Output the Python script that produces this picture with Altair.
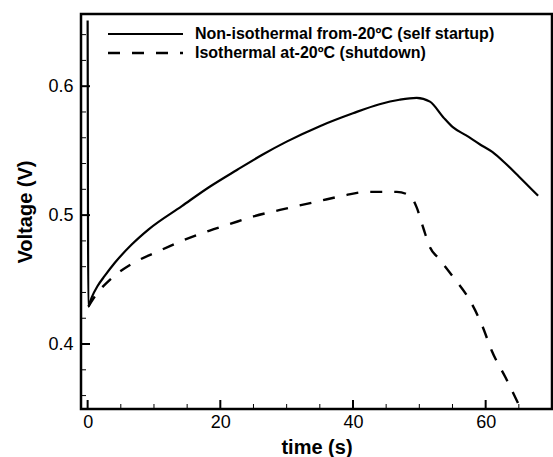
import altair as alt
import pandas as pd

# Series data
solid_t = [0, 0.05, 0.1, 0.6, 1.5, 2.6, 4.1, 6.6, 9.2, 14.2, 18.4, 22.5, 26.4, 30, 35, 40, 44,
           47, 49.6, 51.6, 53.6, 55.1, 57, 59.1, 61, 63, 65, 67.9]
solid_v = [0.651, 0.51, 0.429, 0.436, 0.445, 0.453, 0.463, 0.477, 0.489, 0.507, 0.522, 0.535,
           0.547, 0.557, 0.569, 0.579, 0.586, 0.5895, 0.591, 0.588, 0.576, 0.568, 0.562, 0.555,
           0.549, 0.540, 0.530, 0.515]
dash_t = [0.1, 1.1, 3.6, 6.6, 10.7, 14.2, 18.4, 21.4, 25, 29, 35, 38.5, 42, 46.6, 48.6, 49.6,
          50.6, 51.6, 53, 55.1, 57.6, 59.5, 60.9, 63, 64.9]
dash_v = [0.429, 0.437, 0.451, 0.462, 0.472, 0.480, 0.488, 0.493, 0.499, 0.504, 0.511, 0.515,
          0.518, 0.518, 0.515, 0.506, 0.490, 0.475, 0.466, 0.452, 0.434, 0.414, 0.395, 0.374,
          0.354]
series_names = ["Non-isothermal from-20ºC (self startup)", "Isothermal at-20ºC (shutdown)"]

x_major = [0, 20, 40, 60]
x_minor = [5, 10, 15, 25, 30, 35, 45, 50, 55, 65]
y_major = [0.4, 0.5, 0.6]
y_minor = [0.36, 0.38, 0.42, 0.44, 0.46, 0.48, 0.52, 0.54, 0.56, 0.58, 0.62, 0.64]

W, H = 471, 395
FONT = "Liberation Sans"
DASH = [12, 12]

solid_df = pd.DataFrame({"t": solid_t, "v": solid_v, "i": range(len(solid_t))})
dash_df = pd.DataFrame({"t": dash_t, "v": dash_v, "i": range(len(dash_t))})

xscale = alt.Scale(domain=[-1, 70], nice=False, zero=False)
yscale = alt.Scale(domain=[0.3496, 0.656], nice=False, zero=False)

xaxis = alt.Axis(values=x_major, title="time (s)", ticks=False, domain=False,
                 grid=False, labelFontSize=18, labelFont=FONT, labelColor="black",
                 labelPadding=4, titleFont=FONT, titleFontSize=20,
                 titleFontWeight="bold", titleColor="black", titlePadding=6)
yaxis = alt.Axis(values=y_major, format=".1f", title="Voltage (V)", ticks=False,
                 domain=False, grid=False, labelFontSize=18, labelFont=FONT,
                 labelColor="black", labelPadding=8, titleFont=FONT,
                 titleFontSize=20, titleFontWeight="bold", titleColor="black",
                 titlePadding=12)

solid_line = alt.Chart(solid_df).mark_line(
    clip=True, strokeWidth=2.2, color="black", interpolate="monotone").encode(
    x=alt.X("t:Q", scale=xscale, axis=xaxis),
    y=alt.Y("v:Q", scale=yscale, axis=yaxis),
    order="i:Q",
)
dash_line = alt.Chart(dash_df).mark_line(
    clip=True, strokeWidth=2.4, color="black", strokeDash=DASH,
    interpolate="monotone").encode(
    x=alt.X("t:Q", scale=xscale),
    y=alt.Y("v:Q", scale=yscale),
    order="i:Q",
)

# Legend (inside the plot, top left)
leg1 = pd.DataFrame({"label": [series_names[0]]})
leg2 = pd.DataFrame({"label": [series_names[1]]})
LX0, LX1, LTX = 27, 102, 114
LY1, LY2 = 20, 39
leg_rule1 = alt.Chart(leg1).mark_rule(color="black", strokeWidth=2.2).encode(
    x=alt.value(LX0), x2=alt.value(LX1), y=alt.value(LY1))
leg_rule2 = alt.Chart(leg2).mark_rule(color="black", strokeWidth=2.4, strokeDash=DASH).encode(
    x=alt.value(LX0), x2=alt.value(LX1), y=alt.value(LY2))
leg_text1 = alt.Chart(leg1).mark_text(
    align="left", baseline="middle", font=FONT, fontSize=16, fontWeight="bold",
    color="black").encode(x=alt.value(LTX), y=alt.value(LY1), text="label:N")
leg_text2 = alt.Chart(leg2).mark_text(
    align="left", baseline="middle", font=FONT, fontSize=16, fontWeight="bold",
    color="black").encode(x=alt.value(LTX), y=alt.value(LY2), text="label:N")

xmaj = pd.DataFrame({"t": x_major})
xmin = pd.DataFrame({"t": x_minor})
ymaj = pd.DataFrame({"v": y_major})
ymin = pd.DataFrame({"v": y_minor})

xt_major = alt.Chart(xmaj).mark_rule(color="black", strokeWidth=2).encode(
    x=alt.X("t:Q", scale=xscale), y=alt.value(H), y2=alt.value(H - 9))
xt_minor = alt.Chart(xmin).mark_rule(color="black", strokeWidth=1).encode(
    x=alt.X("t:Q", scale=xscale), y=alt.value(H), y2=alt.value(H - 5))
yt_major = alt.Chart(ymaj).mark_rule(color="black", strokeWidth=2).encode(
    y=alt.Y("v:Q", scale=yscale), x=alt.value(0), x2=alt.value(9))
yt_minor = alt.Chart(ymin).mark_rule(color="black", strokeWidth=1).encode(
    y=alt.Y("v:Q", scale=yscale), x=alt.value(0), x2=alt.value(5))

chart = alt.layer(
    solid_line, dash_line, xt_major, xt_minor, yt_major, yt_minor,
    leg_rule1, leg_rule2, leg_text1, leg_text2,
).properties(
    width=W, height=H,
    autosize=alt.AutoSizeParams(type="none"),
    padding={"left": 81, "top": 14, "right": 1, "bottom": 48},
    background="white",
).configure_view(stroke="black", strokeWidth=2.5)

chart.save("out.html", embed_options={"renderer": "svg", "actions": False})
